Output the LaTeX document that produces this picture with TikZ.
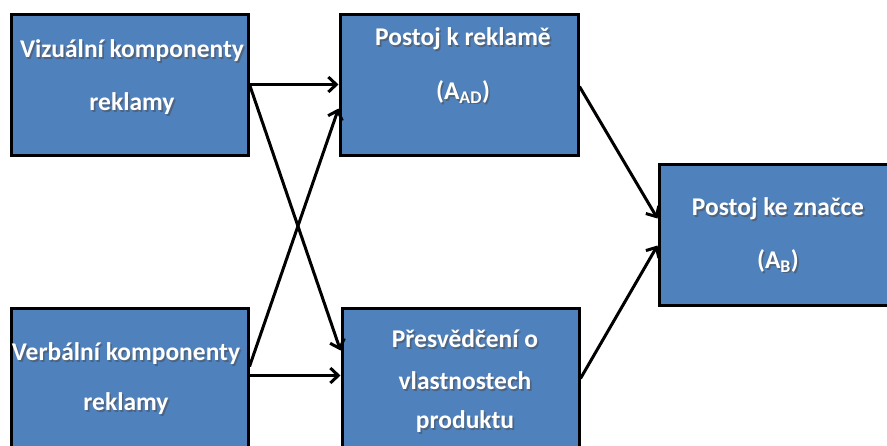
\documentclass[tikz,border=0pt]{standalone}
\usepackage{fontspec}
\setmainfont{Carlito}
\usetikzlibrary{arrows.meta,calc,shadows}
\definecolor{boxblue}{HTML}{4F81BD}
\tikzset{
  box/.style={draw=black, line width=3pt, fill=boxblue, inner sep=0pt,
    drop shadow={opacity=0.35, shadow xshift=2pt, shadow yshift=-2pt}},
  lbl/.style={text=white, font=\bfseries\fontsize{25.5}{30}\selectfont, inner sep=0pt},
  lblsh/.style={text=black!70, opacity=0.55, font=\bfseries\fontsize{25.5}{30}\selectfont, inner sep=0pt},
  link/.style={line width=3pt, -{Straight Barb[length=8pt,width=15pt,line width=3pt]}}
}
% text with a soft dark shadow underneath
\newcommand{\shlabel}[3]{%
  \node[lblsh] (#1s) at ($(#2)+(1.6,1.6)$) {#3};
  \node[lbl] (#1) at (#2) {#3};}
\begin{document}
\begin{tikzpicture}[x=1pt,y=-1pt]
\useasboundingbox (0,0) rectangle (887,445);
\clip (0,0) rectangle (887,445);
% boxes
\node[box, minimum width=237pt, minimum height=141pt] (vis) at (129.5,84.5) {};
\node[box, minimum width=237pt, minimum height=152pt] (ver) at (129.5,384) {};
\node[box, minimum width=238pt, minimum height=141pt] (aad) at (459,84.5) {};
\node[box, minimum width=237pt, minimum height=152pt] (bel) at (460.5,384) {};
\node[box, minimum width=238pt, minimum height=141pt] (ab) at (778,234.5) {};
% labels
\shlabel{t1}{132,51}{Vizuální komponenty}
\shlabel{t2}{132,104}{reklamy}
\shlabel{t3}{126,354}{Verbální komponenty}
\shlabel{t4}{126,404}{reklamy}
\shlabel{t5}{463,39}{Postoj k reklamě}
\shlabel{t6}{463,92}{(A\textsubscript{AD})}
\shlabel{t7}{465,339}{Přesvědčení o}
\shlabel{t8}{465,381}{vlastnostech}
\shlabel{t9}{465,422}{produktu}
\shlabel{t10}{778,209}{Postoj ke značce}
\shlabel{t11}{778,261}{(A\textsubscript{B})}
% connectors
\coordinate (vout) at (vis.east);
\coordinate (rin1) at (aad.west);
\coordinate (rin2) at ($(aad.north west)+(0,96)$);
\coordinate (vout2) at ($(ver.north east)+(0,60)$);
\coordinate (vout3) at ($(ver.north east)+(0,69)$);
\coordinate (bin1) at ($(bel.north west)+(0,44)$);
\coordinate (bin2) at ($(bel.north west)+(0,69)$);
\coordinate (aout) at ($(aad.north east)+(0,74)$);
\coordinate (bout) at ($(bel.north east)+(0,72)$);
\coordinate (abin1) at ($(ab.north west)+(0,56)$);
\coordinate (abin2) at ($(ab.north west)+(0,83)$);
\draw[link] (vout) -- (rin1);
\draw[link] (vout) -- (bin1);
\draw[link] (vout2) -- (rin2);
\draw[link] (vout3) -- (bin2);
\draw[link] (aout) -- (abin1);
\draw[link] (bout) -- (abin2);
\end{tikzpicture}
\end{document}
